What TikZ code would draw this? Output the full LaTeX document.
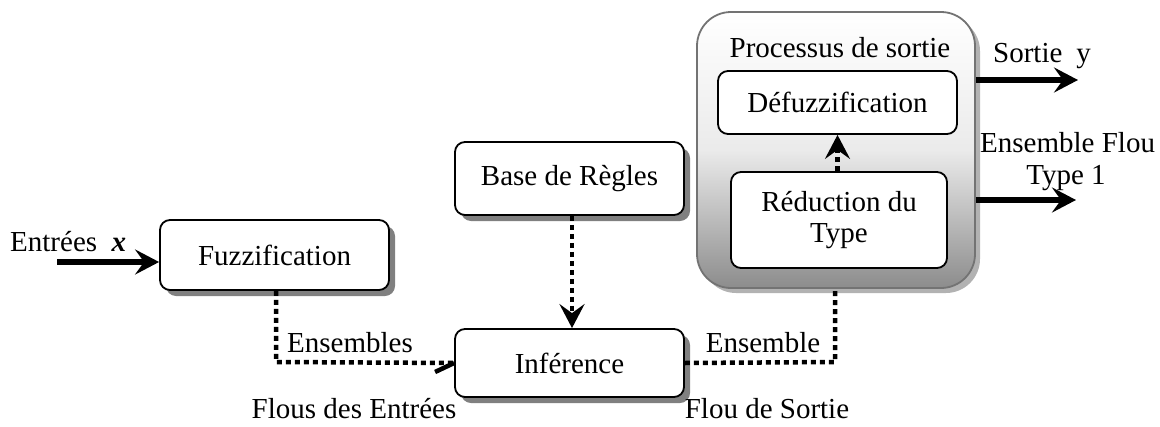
\documentclass[tikz,border=0pt]{standalone}
\usepackage{fontspec}
\setmainfont{Liberation Serif}
\usetikzlibrary{arrows.meta,shadows,calc}
\begin{document}
\begin{tikzpicture}[x=1pt,y=-1pt,
  font=\fontsize{29}{33}\selectfont,
  blk/.style={draw, line width=1.8pt, rounded corners=10pt, fill=white, align=center, inner sep=0pt},
  blkshadow/.style={blk, drop shadow={shadow xshift=6pt, shadow yshift=-6pt, fill=black!50, opacity=1}},
  outerbox/.style={draw=black!55, line width=1.8pt, rounded corners=34pt, top color=white, bottom color=black!45, middle color=black!8,
     drop shadow={shadow xshift=5pt, shadow yshift=-5pt, fill=black!30, opacity=1}},
  dotline/.style={line width=4.5pt, dash pattern=on 5pt off 4pt},
  tip/.style={-{Stealth[length=24pt,width=25pt,inset=9pt]}},
  thickarrow/.style={line width=6pt, -{Stealth[length=24pt,width=25pt,inset=9pt]}},
  lbl/.style={inner sep=0pt}
]
\useasboundingbox (0,0) rectangle (1160,426);

\node[outerbox, minimum width=278pt, minimum height=276pt] (proc) at (836,150) {};
\node[lbl] (proclbl) at (840,48) {Processus de sortie};
\node[blk, minimum width=239pt, minimum height=63pt] (def) at (837.5,102.5) {Défuzzification};
\node[blk, minimum width=216pt, minimum height=96pt] (red) at (839,220) {Réduction du\\[-2pt]Type};

\node[blkshadow, minimum width=229pt, minimum height=70pt] (fuz) at (274.5,255) {Fuzzification};
\node[blkshadow, minimum width=229pt, minimum height=73pt] (base) at (569.5,178.5) {Base de Règles};
\node[blkshadow, minimum width=229pt, minimum height=68pt] (inf) at (569.5,363) {Inférence};

% inputs
\node[lbl, anchor=west] (entlbl) at (10,242) {Entrées \ \textbf{\textit{x}}};
\coordinate (xin) at (57,262);
\draw[thickarrow] (xin) -- (xin -| fuz.west);

% fuzzification -> inference
\coordinate (fz) at (276,362);
\draw[dotline] (fuz.south -| fz) -- (fz) -- (inf.west);
\draw[line width=4.5pt] ($(inf.west)+(-19,9)$) -- (inf.west);
\node[lbl] (ens1) at (350,343) {Ensembles};
\node[lbl] (ens1b) at (354,409) {Flous des Entrées};

% base -> inference
\draw[dotline, tip] (base.south -| 572,0) -- (inf.north -| 572,0);

% inference -> process
\coordinate (ic) at (835,362);
\draw[dotline] (inf.east) -- (ic) -- (proc.south -| ic);
\node[lbl] (ens2) at (763,343) {Ensemble};
\node[lbl] (ens2b) at (767,409) {Flou de Sortie};

% reduction -> defuzz
\draw[dotline, tip] (red.north -| def.south) -- (def.south);

% outputs
\coordinate (o1) at (1078,80);
\coordinate (o2) at (1076,200);
\draw[thickarrow] (o1 -| proc.east) -- (o1);
\draw[thickarrow] (o2 -| proc.east) -- (o2);
\node[lbl, anchor=west] (sortie) at (993,56) {Sortie\hspace{14pt}y};
\node[lbl, anchor=west] (eft) at (980,143) {Ensemble Flou};
\node[lbl] (t1) at (1066,178) {Type 1};
\end{tikzpicture}
\end{document}
